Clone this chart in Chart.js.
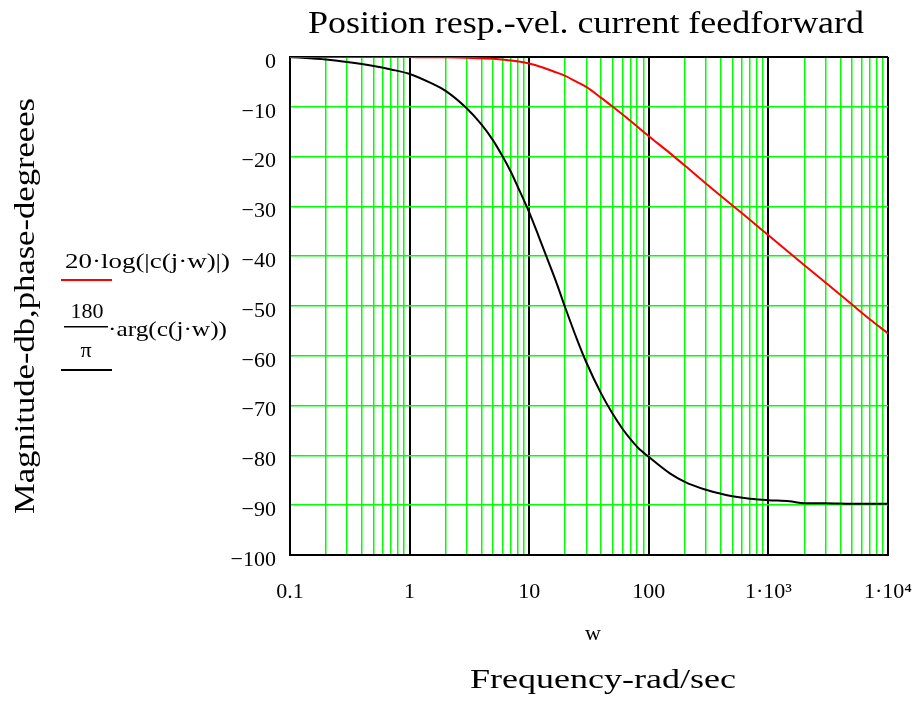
<!DOCTYPE html>
<html>
<head>
<meta charset="utf-8">
<script src="https://cdn.jsdelivr.net/npm/chart.js@4.4.0/dist/chart.umd.min.js"></script>
<style>
  html, body { margin: 0; padding: 0; background: #fff; }
  #wrap { width: 920px; height: 704px; }
</style>
</head>
<body>
<div id="wrap"><canvas id="bode" width="920" height="704"></canvas></div>
<script>
// frequencies (rad/sec) and readings
const magFreq = [0.1, 0.5, 1, 2, 3, 5, 7, 10, 13, 16, 20, 25, 30, 40, 50, 70, 100, 150, 200, 300, 500, 700, 1000, 2000, 3000, 5000, 7000, 10000];
const magDb   = [0, 0, -0.02, -0.07, -0.15, -0.35, -0.7, -1.3, -2.1, -2.9, -3.8, -5.0, -6.0, -8.2, -10.0, -12.8, -15.9, -19.3, -21.8, -25.4, -29.8, -32.7, -35.8, -41.8, -45.3, -49.7, -52.6, -55.5];

const phaseFreq = [0.1, 0.2, 0.3, 0.5, 0.7, 1, 1.5, 2, 3, 4, 5, 6, 7, 8, 10, 12, 14, 17, 20, 25, 30, 40, 50, 60, 70, 80, 100, 150, 200, 300, 400, 500, 700, 1000, 1500, 2000, 3000, 5000, 10000];
const phaseDeg  = [0, -0.5, -1.0, -1.8, -2.5, -3.4, -5.2, -6.8, -10.3, -13.6, -16.8, -20.0, -23.0, -26.0, -31.2, -36.0, -40.2, -45.5, -50.3, -56.6, -61.3, -67.6, -71.7, -74.6, -76.7, -78.3, -80.3, -83.6, -85.3, -86.9, -87.7, -88.2, -88.7, -89.0, -89.2, -89.6, -89.6, -89.7, -89.7];

const decades = [0.1, 1, 10, 100, 1000, 10000];
const decadeLabels = ['0.1', '1', '10', '100', '1\u00b710\u00b3', '1\u00b710\u2074'];
const yTicks = [0, -10, -20, -30, -40, -50, -60, -70, -80, -90, -100];

const SERIF = '"Liberation Serif", "Times New Roman", serif';
const GREEN = '#00ff00';

// log grid positions: 1..9 within each decade
const xGrid = [];
for (let d = 0; d < decades.length - 1; d++) {
  for (let m = 1; m <= 9; m++) xGrid.push(+(decades[d] * m).toPrecision(6));
}
xGrid.push(10000);

function isDecade(v) {
  return decades.some(d => Math.abs(v - d) < d * 1e-6);
}

function fitText(ctx, str, x, y, size, align, width) {
  ctx.save();
  ctx.font = size + 'px ' + SERIF;
  ctx.textBaseline = 'alphabetic';
  ctx.textAlign = 'left';
  const w = ctx.measureText(str).width;
  const sx = width ? width / w : 1;
  let left = x;
  if (align === 'center') left = x - (w * sx) / 2;
  ctx.translate(left, y);
  ctx.scale(sx, 1);
  ctx.fillText(str, 0, 0);
  ctx.restore();
}

const labelsPlugin = {
  id: 'mathcadLabels',
  afterDraw(chart) {
    const ctx = chart.ctx;
    ctx.save();
    ctx.fillStyle = '#000';
    fitText(ctx, 'Position resp.-vel. current feedforward', 586, 33, 31, 'center', 556);
    fitText(ctx, 'w', 593, 640, 22, 'center');
    fitText(ctx, 'Frequency-rad/sec', 603, 688, 27, 'center', 266);

    // rotated y title
    ctx.save();
    ctx.translate(34, 306);
    ctx.rotate(-Math.PI / 2);
    fitText(ctx, 'Magnitude-db,phase-degreees', 0, 0, 30, 'center', 416);
    ctx.restore();

    // trace legend
    fitText(ctx, '20\u00b7log(|c(j\u00b7w)|)', 65, 268, 22, 'left', 165);
    ctx.fillStyle = 'red';
    ctx.fillRect(61, 279, 51, 2);
    ctx.fillStyle = '#000';
    fitText(ctx, '180', 87, 318, 22, 'center');
    ctx.fillRect(64, 326, 44, 1.5);
    fitText(ctx, '\u00b7arg(c(j\u00b7w))', 108, 336, 22, 'left', 119);
    fitText(ctx, '\u03c0', 86, 357, 22, 'center');
    ctx.fillRect(61, 369, 51, 2);
    ctx.restore();
  }
};

const ctx = document.getElementById('bode').getContext('2d');
const bode = new Chart(ctx, {
  type: 'line',
  data: {
    datasets: [
      {
        label: 'magnitude',
        data: magFreq.map((f, i) => ({ x: f, y: magDb[i] })),
        borderColor: '#ff0000',
        borderWidth: 2,
        pointRadius: 0,
        cubicInterpolationMode: 'monotone',
        fill: false
      },
      {
        label: 'phase',
        data: phaseFreq.map((f, i) => ({ x: f, y: phaseDeg[i] })),
        borderColor: '#000000',
        borderWidth: 2,
        pointRadius: 0,
        cubicInterpolationMode: 'monotone',
        fill: false
      }
    ]
  },
  options: {
    responsive: false,
    animation: false,
    devicePixelRatio: 1,
    layout: { padding: { top: 57, right: 32, left: 0, bottom: 0 } },
    plugins: {
      legend: { display: false },
      tooltip: { enabled: false }
    },
    scales: {
      x: {
        type: 'logarithmic',
        min: 0.1,
        max: 10000,
        afterBuildTicks(scale) {
          scale.ticks = xGrid.map(v => ({ value: v }));
        },
        afterFit(scale) {
          scale.height = 149;
          scale.paddingLeft = 0;
          scale.paddingRight = 0;
        },
        grid: {
          drawTicks: false,
          color: c => isDecade(c.tick.value) ? '#000' : GREEN,
          lineWidth: c => isDecade(c.tick.value) ? 2 : 1.5
        },
        border: { color: '#000', width: 2 },
        ticks: {
          autoSkip: false,
          maxRotation: 0,
          padding: 24,
          color: '#000',
          font: { family: SERIF, size: 22 },
          callback(v) {
            const i = decades.findIndex(d => Math.abs(v - d) < d * 1e-6);
            return i >= 0 ? decadeLabels[i] : '';
          }
        }
      },
      y: {
        min: -100,
        max: 0,
        afterBuildTicks(scale) {
          scale.ticks = yTicks.map(v => ({ value: v }));
        },
        afterFit(scale) {
          scale.width = 290;
          scale.paddingTop = 0;
          scale.paddingBottom = 0;
        },
        grid: {
          drawTicks: false,
          color: c => (c.tick.value === 0 || c.tick.value === -100) ? '#000' : GREEN,
          lineWidth: c => (c.tick.value === 0 || c.tick.value === -100) ? 2 : 1.5
        },
        border: { color: '#000', width: 2 },
        ticks: {
          padding: 14,
          labelOffset: 5,
          color: '#000',
          font: { family: SERIF, size: 22 },
          callback: v => v === 0 ? '0' : '\u2212' + Math.abs(v)
        }
      }
    }
  },
  plugins: [labelsPlugin]
});
</script>
</body>
</html>
